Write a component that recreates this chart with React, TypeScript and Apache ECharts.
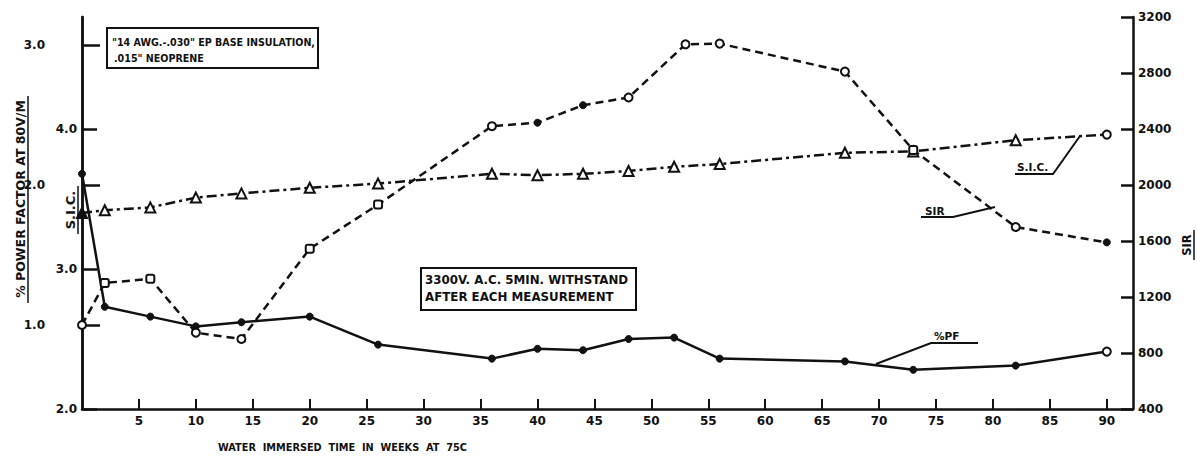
import { useEffect, useRef } from "react";
import * as echarts from "echarts";

// Weeks at which samples were measured
const WEEKS = [0, 2, 6, 10, 14, 20, 26, 36, 40, 44, 48, 52, 56, 67, 73, 82, 90];
const SIR_WEEKS = [0, 2, 6, 10, 14, 20, 26, 36, 40, 44, 48, 53, 56, 67, 73, 82, 90];

// % power factor at 80 V/mil
const PF = [2.08, 1.13, 1.06, 0.99, 1.02, 1.06, 0.86, 0.76, 0.83, 0.82, 0.9, 0.91, 0.76, 0.74, 0.68, 0.71, 0.81];
// Specific inductive capacity
const SIC = [3.4, 3.42, 3.44, 3.51, 3.54, 3.58, 3.61, 3.68, 3.67, 3.68, 3.7, 3.73, 3.75, 3.83, 3.84, 3.92, 3.96];
// Specific insulation resistance
const SIR = [1000, 1300, 1330, 945, 900, 1545, 1860, 2420, 2445, 2570, 2625, 3005, 3010, 2810, 2250, 1700, 1590];

// Marker kinds for each point
const PF_MARKS = ["dot", "dot", "dot", "dot", "dot", "dot", "dot", "dot", "dot", "dot", "dot", "dot", "dot", "dot", "dot", "dot", "ring"];
const SIC_MARKS = ["triDot", "tri", "tri", "tri", "tri", "tri", "tri", "tri", "tri", "tri", "tri", "tri", "tri", "tri", "tri", "tri", "ring"];
const SIR_MARKS = ["ring", "box", "box", "ring", "ring", "box", "box", "ring", "dot", "dot", "ring", "ring", "ring", "ring", "box", "ring", "dot"];

// Tick labels
const X_TICKS = [5, 10, 15, 20, 25, 30, 35, 40, 45, 50, 55, 60, 65, 70, 75, 80, 85, 90];
const PF_TICKS = [1, 2, 3];
const SIC_TICKS = [2, 3, 4];

const FONT = '"DejaVu Sans", sans-serif';
const INK = "#111";

function mark(kind: string) {
  switch (kind) {
    case "dot":
      return { symbol: "circle", symbolSize: 7, itemStyle: { color: INK, borderColor: INK, borderWidth: 1 } };
    case "ring":
      return { symbol: "circle", symbolSize: 8, itemStyle: { color: "#fff", borderColor: INK, borderWidth: 2 } };
    case "box":
      return { symbol: "roundRect", symbolSize: 8, itemStyle: { color: "#fff", borderColor: INK, borderWidth: 2 } };
    case "tri":
      return { symbol: "triangle", symbolSize: 10, itemStyle: { color: "#fff", borderColor: INK, borderWidth: 2 } };
    default:
      return { symbol: "triangle", symbolSize: 10, itemStyle: { color: INK, borderColor: INK, borderWidth: 2 } };
  }
}

const labelStyle = { color: INK, fontFamily: FONT, fontWeight: "bold" as const, fontSize: 12 };
const txt = (x: number, y: number, text: string, size = 10.5, scaleX = 1) => ({
  type: "text",
  x,
  y,
  scaleX,
  style: { text, fill: INK, font: `bold ${size}px ${FONT}`, verticalAlign: "middle" },
});
const vtxt = (x: number, y: number, text: string, size: number) => ({
  type: "text",
  x,
  y,
  rotation: Math.PI / 2,
  style: { text, fill: INK, font: `bold ${size}px ${FONT}`, align: "center", verticalAlign: "middle" },
});
const seg = (points: number[][], w = 2) => ({
  type: "polyline",
  shape: { points },
  style: { stroke: INK, lineWidth: w, fill: null },
});

export default function App() {
  const ref = useRef<HTMLDivElement>(null);

  useEffect(() => {
    if (!ref.current) return;
    const chart = echarts.init(ref.current, undefined, { renderer: "svg" });

    const option: any = {
      animation: false,
      backgroundColor: "#fff",
      grid: { left: 82, right: 64, top: 17, bottom: 47, containLabel: false, outerBoundsMode: "none" },
      xAxis: {
        type: "value",
        min: 0,
        max: 92.3,
        axisLine: { show: true, lineStyle: { color: INK, width: 2.5 } },
        axisTick: { show: true, inside: true, length: 10, customValues: X_TICKS, lineStyle: { color: INK, width: 2 } },
        axisLabel: { ...labelStyle, margin: 6, customValues: X_TICKS },
        splitLine: { show: false },
      },
      yAxis: [
        {
          type: "value",
          position: "left",
          offset: 32,
          min: 0.4,
          max: 3.2,
          axisLine: { show: true, lineStyle: { color: INK, width: 2.5 } },
          axisTick: { show: true, inside: true, length: 18, customValues: PF_TICKS, lineStyle: { color: INK, width: 2.5 } },
          axisLabel: { ...labelStyle, margin: 5, customValues: PF_TICKS, formatter: (v: number) => v.toFixed(1) },
          splitLine: { show: false },
        },
        {
          type: "value",
          position: "left",
          offset: 0,
          min: 2,
          max: 4.8,
          axisLine: { show: true, lineStyle: { color: INK, width: 2.5 } },
          axisTick: { show: true, inside: true, length: 15, customValues: SIC_TICKS, lineStyle: { color: INK, width: 2.5 } },
          axisLabel: { ...labelStyle, margin: 5, customValues: SIC_TICKS, formatter: (v: number) => v.toFixed(1) },
          splitLine: { show: false },
        },
        {
          type: "value",
          position: "right",
          min: 400,
          max: 3200,
          interval: 400,
          axisLine: { show: true, lineStyle: { color: INK, width: 2.5 } },
          axisTick: { show: true, inside: true, length: 12, lineStyle: { color: INK, width: 2.5 } },
          axisLabel: { ...labelStyle, margin: 5, formatter: (v: number) => String(v) },
          splitLine: { show: false },
        },
      ],
      series: [
        {
          name: "%PF",
          type: "line",
          yAxisIndex: 0,
          color: INK,
          showAllSymbol: true,
          lineStyle: { color: INK, width: 2.5, type: "solid" },
          data: WEEKS.map((w, i) => ({ value: [w, PF[i]], ...mark(PF_MARKS[i]) })),
          z: 3,
        },
        {
          name: "S.I.C.",
          type: "line",
          yAxisIndex: 1,
          color: INK,
          showAllSymbol: true,
          lineStyle: { color: INK, width: 2.5, type: [10, 4, 3, 4] },
          data: WEEKS.map((w, i) => ({ value: [w, SIC[i]], ...mark(SIC_MARKS[i]) })),
          z: 4,
        },
        {
          name: "SIR",
          type: "line",
          yAxisIndex: 2,
          color: INK,
          showAllSymbol: true,
          lineStyle: { color: INK, width: 2.5, type: [8, 5] },
          data: SIR_WEEKS.map((w, i) => ({ value: [w, SIR[i]], ...mark(SIR_MARKS[i]) })),
          z: 5,
        },
      ],
      graphic: [
        // Specimen note
        { type: "rect", shape: { x: 107, y: 28, width: 211, height: 40 }, style: { fill: "#fff", stroke: INK, lineWidth: 2 } },
        txt(112, 42, '"14 AWG.-.030" EP BASE INSULATION,', 10.5, 0.91),
        txt(114, 58, '.015" NEOPRENE', 10.5, 0.91),
        // Test note
        { type: "rect", shape: { x: 421, y: 268, width: 215, height: 42 }, style: { fill: "#fff", stroke: INK, lineWidth: 2 } },
        txt(425, 280, "3300V. A.C. 5MIN. WITHSTAND", 11.5, 1.03),
        txt(425, 297, "AFTER EACH MEASUREMENT", 11.5, 1.03),
        // Curve labels with leaders
        txt(1017, 167, "S.I.C."),
        seg([[1015, 174], [1053, 174], [1080, 136]]),
        txt(925, 211, "SIR"),
        seg([[921, 217], [953, 217], [995, 207]]),
        txt(934, 336, "%PF"),
        seg([[978, 343], [931, 343], [876, 364]]),
        // Axis titles
        vtxt(20, 199, "% POWER FACTOR AT 80V/M", 12.5),
        seg([[28, 96], [28, 303]], 1.5),
        vtxt(70, 210, "S.I.C.", 13),
        seg([[78, 186], [78, 234]], 1.5),
        vtxt(1187, 245, "SIR", 11.5),
        seg([[1194, 230], [1194, 260]], 1.5),
        txt(218, 447, "WATER  IMMERSED  TIME  IN  WEEKS  AT  75C", 10.5, 0.93),
      ],
    };

    chart.setOption(option);
    return () => chart.dispose();
  }, []);

  return (
    <div
      ref={ref}
      style={{ position: "fixed", left: 0, top: 0, width: 1197, height: 456, background: "#fff" }}
    />
  );
}
